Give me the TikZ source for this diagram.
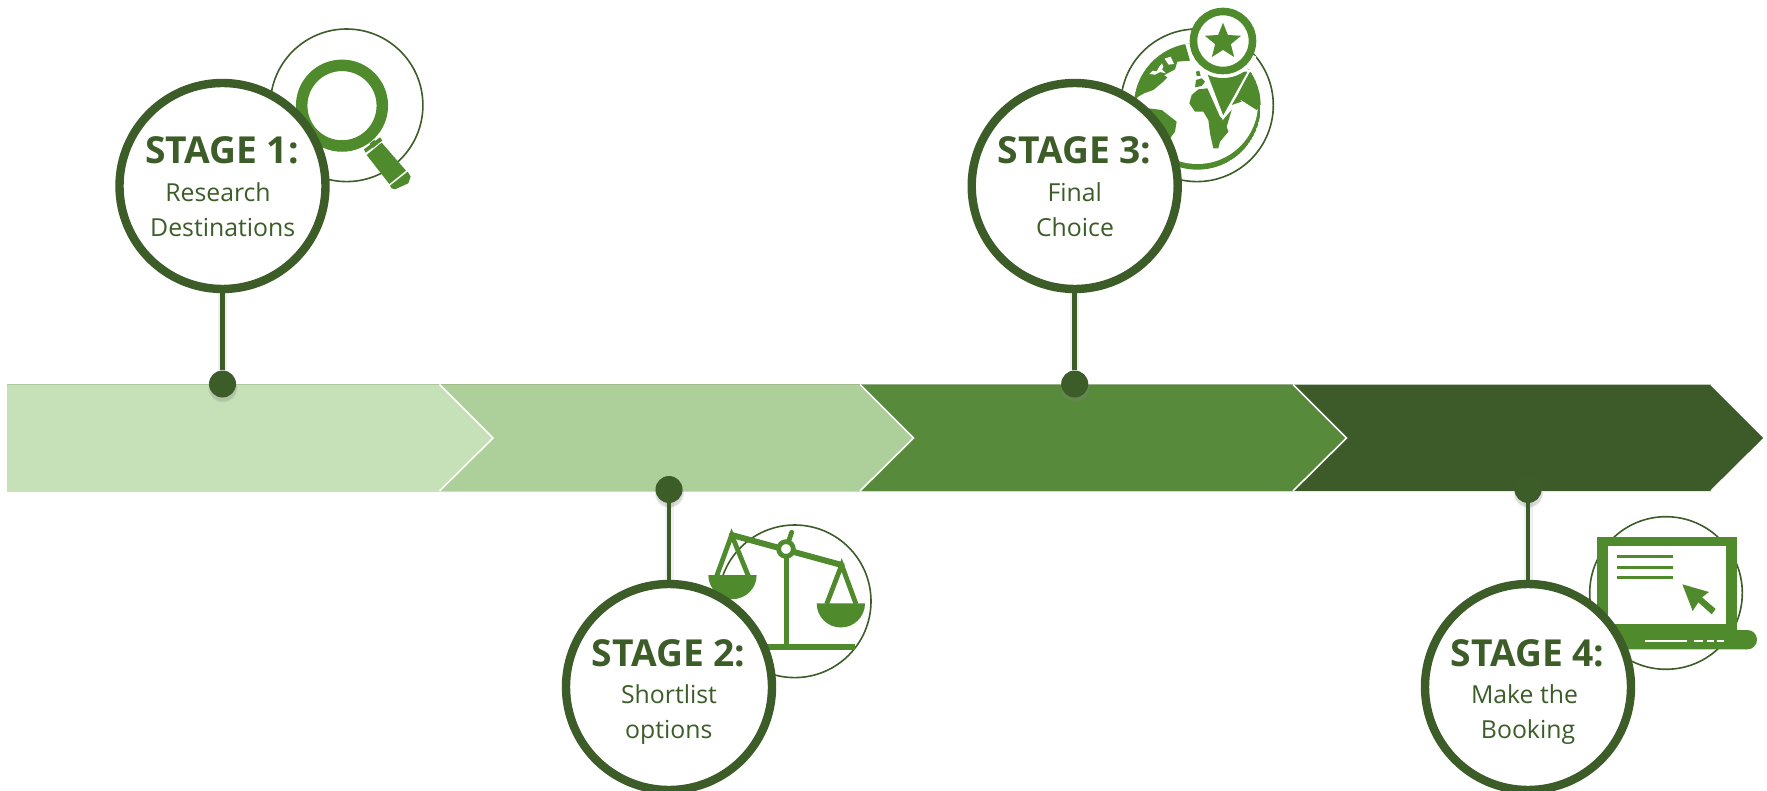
\documentclass[tikz,border=0pt]{standalone}
\usepackage{fontspec}
\setmainfont{Open Sans}
\usetikzlibrary{shapes.geometric,shadows}

\definecolor{stagegreen}{HTML}{3C5C28}
\definecolor{icongreen}{HTML}{4F8A2C}
\definecolor{chevA}{HTML}{C6E0B8}
\definecolor{chevB}{HTML}{ADD09A}
\definecolor{chevC}{HTML}{588A3B}
\definecolor{chevD}{HTML}{3C5B28}

\tikzset{
  stagering/.style={circle,draw=stagegreen,line width=4.2pt,fill=white,minimum size=103pt,inner sep=0pt},
  halo/.style={draw=stagegreen,line width=0.8pt},
  pindot/.style={circle,fill=stagegreen,minimum size=13.5pt,inner sep=0pt,
    circular drop shadow={shadow xshift=0pt,shadow yshift=-1.5pt,shadow scale=1.12,opacity=.3}},
  stem/.style={draw=stagegreen,line width=2.3pt,preaction={draw=black,opacity=.06,line width=4.5pt}},
  stagetitle/.style={anchor=base,inner sep=0pt,text=stagegreen,font=\fontsize{18.6}{20}\selectfont\bfseries},
  stagetext/.style={anchor=base,inner sep=0pt,text=stagegreen,font=\fontsize{12.4}{14}\selectfont}
}

\begin{document}
\begin{tikzpicture}[x=0.5pt,y=-0.5pt]
\useasboundingbox (0,0) rectangle (1767,791);

% the arrow band, painted from the last part to the first
\foreach \xs/\col in {1711/chevD,1293/chevC,860/chevB,439.5/chevA} {
  \fill[\col] (7,384.5) -- (\xs,384.5) -- (\xs+53.5,438) -- (\xs,491) -- (7,491) -- cycle;
  \draw[white,line width=0.8pt] (\xs,384.5) -- (\xs+53.5,438) -- (\xs,491);
}

% the thin circles behind the icons
\draw[halo] (346.6,105.3) circle [radius=76.3];
\draw[halo] (794.7,601.3) circle [radius=76.3];
\draw[halo] (1197,105.3) circle [radius=76.3];
\draw[halo] (1666,593) circle [radius=76.3];

% the magnifier
\begin{scope}[shift={(100,0)},scale=1/3]
\draw[icongreen,line width=5.75pt] (726,317) circle [radius=121];
\draw[icongreen,line width=3pt] (816,425) -- (826,438);
\fill[icongreen] (792,448) -- (840,412) -- (847,422) -- (797,458) -- cycle;
\fill[icongreen] (800,465) -- (845,428) -- (918,512) -- (868,552) -- cycle;
\fill[icongreen] (870,557) -- (923,515) -- (932,530) -- (925,550) -- (885,568) -- (875,565) -- cycle;
\end{scope}

% the scales
\begin{scope}[shift={(540,470)},scale=1/3]
\draw[icongreen,line width=2.5pt] (738,237) -- (738,530);
\draw[icongreen,line width=3pt] (650,530) -- (945,530);
\draw[icongreen,line width=2.4pt] (530,318) -- (575,195) -- (625,318);
\draw[icongreen,line width=2.4pt] (860,402) -- (905,285) -- (948,402);
\draw[icongreen,line width=3pt,line cap=round] (575,195) -- (905,285);
\draw[icongreen,line width=2.4pt,line cap=round] (738,237) -- (755,187);
\draw[icongreen,fill=white,line width=2.4pt] (738,237) circle [radius=22];
\fill[icongreen] (505,315) arc [start angle=180,end angle=0,radius=72.5] -- cycle;
\fill[icongreen] (830,400) arc [start angle=180,end angle=0,radius=72.5] -- cycle;
\end{scope}

% the globe with the map pin
\begin{scope}[shift={(960,0)},scale=1/3]
\begin{scope}
\clip (712,319) circle [radius=190];
\fill[icongreen] (712,319) circle [radius=190];
\fill[white] (712,310) circle [radius=182];
% north america
\fill[icongreen] (500,320) -- (535,290) -- (552,280) -- (580,270) -- (610,245) -- (622,232) -- (612,226)
  -- (645,208) -- (652,185) -- (690,182) -- (672,120) -- (560,150) -- (500,250) -- cycle;
\fill[white] (568,222) -- (578,212) -- (590,214) -- (598,200) -- (606,190) -- (610,200) -- (606,208) -- (618,220) -- (600,216) -- (585,224) -- cycle;
\fill[white] (614,176) -- (632,170) -- (642,192) -- (626,194) -- cycle;
% south america
\fill[icongreen] (565,325) -- (605,330) -- (650,365) -- (645,395) -- (630,415) -- (560,420) -- cycle;
% africa
\fill[icongreen] (688,310) -- (695,285) -- (715,268) -- (742,265) -- (780,350) -- (790,358) -- (815,330)
  -- (800,380) -- (805,395) -- (780,425) -- (775,445) -- (760,445) -- (750,400) -- (745,360) -- (730,335) -- (705,335) -- cycle;
% europe and asia
\fill[icongreen] (705,262) -- (708,240) -- (725,235) -- (735,245) -- (725,258) -- cycle;
\fill[icongreen] (708,215) -- (718,212) -- (722,228) -- (710,228) -- cycle;
\fill[icongreen] (865,220) -- (830,290) -- (815,315) -- (845,305) -- (835,295) -- (890,330) -- (915,300) -- (885,205) -- cycle;
\end{scope}
\filldraw[icongreen,draw=white,line width=1pt] (735,212) -- (789,354) -- (868,212) -- cycle;
\draw[white,line width=2pt] (789,123) ++(25:105) arc [start angle=25,end angle=155,radius=105];
\draw[icongreen,fill=white,line width=3.8pt] (789,123) circle [radius=88.5];
\node[star,star points=5,star point ratio=2.3,fill=icongreen,inner sep=0pt,minimum size=19pt] (pinstar) at (789,125) {};
\end{scope}

% the laptop
\begin{scope}[shift={(1410,470)},scale=1/3]
\fill[icongreen] (560,200) rectangle (980,490);
\fill[white] (594,228) rectangle (947,463);
\fill[icongreen,rounded corners=4.8pt] (540,480) rectangle (1041,538);
\foreach \ly in {260,292,323}
  \fill[icongreen] (621,\ly-5) rectangle (789,\ly+5);
\fill[icongreen,line join=round] (817,343) -- (897,366) -- (876,382) -- (917,417) -- (905,433) -- (865,397) -- (848,423) -- cycle;
\draw[white,line width=1pt] (705,514) -- (832,514);
\draw[white,line width=1pt] (853,514) -- (878,514) (890,514) -- (912,514) (922,514) -- (943,514);
\end{scope}

% the stage circles, dots and stems
\foreach \n/\cx/\cy/\dy in {1/222.5/186/384,2/669/687/489.5,3/1074.7/186/384,4/1528/687/489.5} {
  \node[stagering] (stage\n) at (\cx,\cy) {};
  \node[pindot] (dot\n) at (\cx,\dy) {};
  \draw[stem] (stage\n) -- (dot\n);
}

% the labels
\node[stagetitle] (title1) at (222,164) {STAGE 1:};
\node[stagetext] (first1) at (218,202) {Research};
\node[stagetext] (second1) at (222.7,237) {Destinations};
\node[stagetitle] (title2) at (668.5,666) {STAGE 2:};
\node[stagetext] (first2) at (669,703) {Shortlist};
\node[stagetext] (second2) at (668.7,738) {options};
\node[stagetitle] (title3) at (1074.7,164) {STAGE 3:};
\node[stagetext] (first3) at (1074.8,202) {Final};
\node[stagetext] (second3) at (1075,237) {Choice};
\node[stagetitle] (title4) at (1527.5,666) {STAGE 4:};
\node[stagetext] (first4) at (1524.5,703) {Make the};
\node[stagetext] (second4) at (1528,738) {Booking};
\end{tikzpicture}
\end{document}
